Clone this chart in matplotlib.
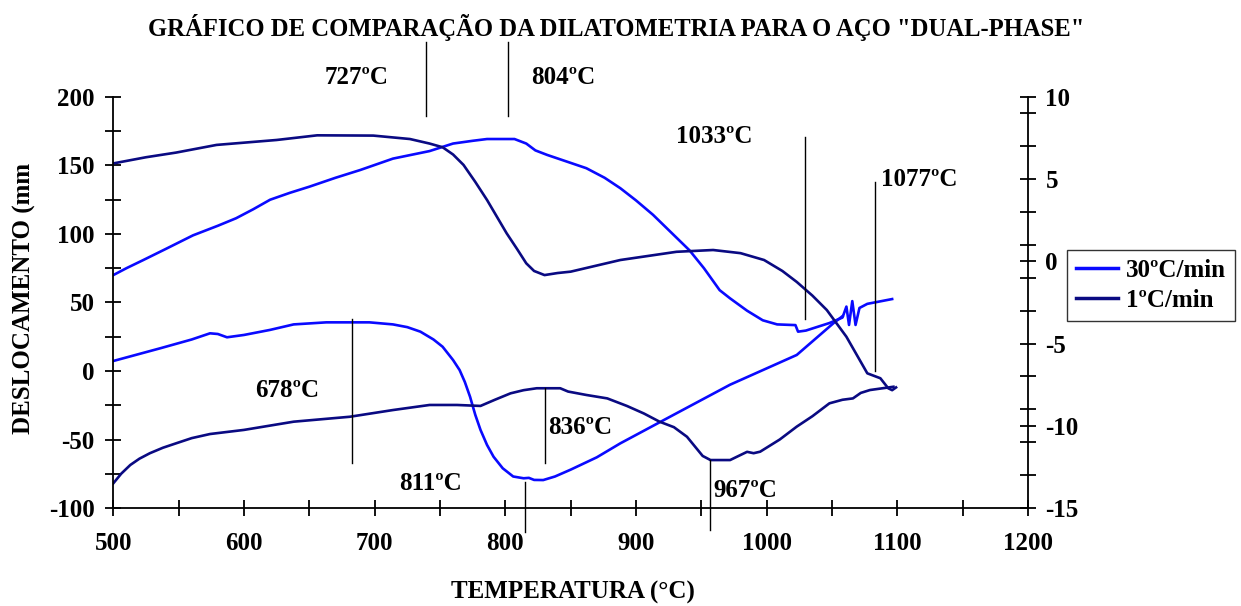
import numpy as np
import matplotlib
matplotlib.use('Agg')
import matplotlib.pyplot as plt
from matplotlib.ticker import MultipleLocator, FixedLocator

plt.rcParams['font.family'] = ['Liberation Serif', 'DejaVu Serif']
plt.rcParams['font.weight'] = 'bold'
plt.rcParams['axes.unicode_minus'] = False

# 30ºC/min - upper branch and lower branch
t30_a = [500, 510, 523, 540, 561, 580, 594, 607, 620, 635, 650, 670, 689, 714, 742, 760, 775, 786, 807, 816,
         823, 832, 845, 862, 876, 888, 900, 913, 927, 941, 952, 964, 972, 985, 997, 1008, 1019, 1022, 1024,
         1030, 1048, 1058, 1061, 1063, 1065.5, 1068, 1071, 1077, 1096]
d30_a = [70, 75, 81, 89, 99, 106, 111.5, 118, 125, 130, 134.5, 141, 146.7, 155, 160.5, 166, 168, 169.3, 169.3, 166,
         161, 157.7, 153.5, 148, 141, 133.4, 124.5, 114, 101, 88, 75, 59, 53, 44, 37, 34, 33.6, 33.5, 28.7,
         29.5, 35, 39, 47, 33.6, 51, 33.6, 46, 49, 52.5]
t30_b = [500, 536, 560, 574, 580, 587, 600, 620, 638, 663, 696, 714, 725, 735, 745, 752, 760, 765, 769, 773,
         777, 781, 786, 791, 798, 806, 814, 818, 822, 829, 838, 850, 870, 888, 926, 972, 1023, 1051, 1058]
d30_b = [7.3, 16.6, 23, 27.5, 27, 24.6, 26.3, 30, 34, 35.5, 35.5, 34, 32, 28.7, 23, 17.7, 8, 0.7, -8, -18.8,
         -32, -43, -54, -62.6, -71, -77, -78.3, -78, -79.5, -79.6, -77, -72, -63, -52.8, -33.4, -10, 11.7,
         34.8, 40]

# 1ºC/min - upper branch and lower branch
t1_a = [500, 525, 548, 579, 625, 656, 699, 727, 742, 752, 760, 768, 777, 786, 801, 809, 816, 822, 830, 840,
        850, 888, 931, 959, 980, 998, 1012, 1023, 1035, 1046, 1061, 1077, 1087, 1093, 1096, 1099]
d1_a = [151.5, 156, 159.4, 165, 168.6, 172, 171.8, 169.3, 166, 163.3, 158, 150.4, 138, 124.8, 100.5, 89, 78.6,
        73, 70, 71.5, 72.5, 81, 87, 88.3, 86, 81, 73, 65, 55, 44.5, 25, -1.7, -5.3, -12.6, -14, -12]
t1_b = [500, 506, 513, 520, 528, 538, 548, 560, 574, 600, 638, 681, 714, 742, 763, 781, 792, 804, 814, 824,
        842, 848, 862, 878, 893, 906, 918, 929, 939, 945, 951, 957, 972, 980, 985, 990, 995, 1010, 1023, 1035,
        1048, 1058, 1066, 1072, 1079, 1097]
d1_b = [-82, -75, -68.6, -64, -60, -56, -52.8, -49, -46, -43, -37, -33.4, -28.5, -24.8, -24.8, -25.5, -21, -16.3,
        -14, -12.6, -12.6, -15, -17.5, -20, -25.5, -31, -37, -41, -48, -55, -62, -65, -65, -61.3, -59, -60,
        -58.9, -50, -40.6, -33, -23.6, -21, -20, -16, -13.9, -11.5]

# marker lines: temperature, bottom, top
mark_t = [739, 802, 1029, 1083, 683, 830, 815, 957]
mark_lo = [186, 186, 37.7, 0.2, -67.4, -67.4, -117.5, -116]
mark_hi = [240, 240, 171, 137.7, 38, -12.6, -80.8, -65]

labels = ['727ºC', '804ºC', '1033ºC', '1077ºC', '678ºC', '836ºC', '811ºC', '967ºC']
lab_x = [686.5, 844, 960, 1117, 633, 857, 743, 984]
lab_y = [214, 214, 171, 139.4, -14, -41.6, -81.8, -87]

blue = '#0a0aff'
navy = '#0a0a82'
fs = 18

fig = plt.figure(figsize=(12.41, 6.06), dpi=100)
ax = fig.add_axes([0.0913, 0.1617, 0.8284 - 0.0913, 0.84 - 0.1617])

ax.plot(t30_a, d30_a, color=blue, lw=1.9, label='30ºC/min')
ax.plot(t30_b, d30_b, color=blue, lw=1.9)
ax.plot(t1_a, d1_a, color=navy, lw=1.9, label='1ºC/min')
ax.plot(t1_b, d1_b, color=navy, lw=1.9)

for t, lo, hi in zip(mark_t, mark_lo, mark_hi):
    ax.plot([t, t], [lo, hi], color='black', lw=1.0, clip_on=False)
for s, x, y in zip(labels, lab_x, lab_y):
    ax.text(x, y, s, ha='center', va='center', fontsize=fs, fontweight='bold', clip_on=False)

ax.set_xlim(500, 1200)
ax.set_ylim(-100, 200)
ax.xaxis.set_major_locator(MultipleLocator(100))
ax.xaxis.set_minor_locator(MultipleLocator(50))
ax.yaxis.set_major_locator(MultipleLocator(50))
ax.yaxis.set_minor_locator(MultipleLocator(25))
ax.spines['top'].set_visible(False)
ax.spines['right'].set_visible(False)
for sp in ['left', 'bottom']:
    ax.spines[sp].set_linewidth(1.3)
ax.tick_params(which='both', direction='inout', length=11, width=1.3, labelsize=fs)
ax.tick_params(axis='x', pad=12)
ax.tick_params(axis='y', pad=8)

ax2 = ax.twinx()
ax2.set_ylim(-15, 10)
ax2.yaxis.set_major_locator(MultipleLocator(5))
ax2.yaxis.set_minor_locator(FixedLocator(list(range(-13, 10, 2))))
ax2.spines['top'].set_visible(False)
ax2.spines['left'].set_visible(False)
ax2.spines['bottom'].set_visible(False)
ax2.spines['right'].set_linewidth(1.3)
ax2.tick_params(which='both', direction='inout', length=11, width=1.3, labelsize=fs, pad=7)

fig.text(0.4617, 0.023, 'TEMPERATURA (°C)', ha='center', va='center', fontsize=fs, fontweight='bold')
fig.text(0.020, 0.508, 'DESLOCAMENTO (mm', ha='center', va='center', rotation=90,
         fontsize=fs, fontweight='bold')
fig.text(0.4964, 0.955, 'GRÁFICO DE COMPARAÇÃO DA DILATOMETRIA PARA O AÇO "DUAL-PHASE"',
         ha='center', va='center', fontsize=17.7, fontweight='bold')

leg = ax.legend(loc='upper left', bbox_to_anchor=(0.8598, 0.5875), bbox_transform=fig.transFigure,
                borderaxespad=0, fontsize=fs, frameon=True, fancybox=False, edgecolor='black',
                handlelength=1.7, handletextpad=0.3, borderpad=0.35, labelspacing=0.3)
leg.get_frame().set_linewidth(1.0)
for h in leg.get_lines():
    h.set_linewidth(2.5)

fig.savefig('out.png', dpi=100)
